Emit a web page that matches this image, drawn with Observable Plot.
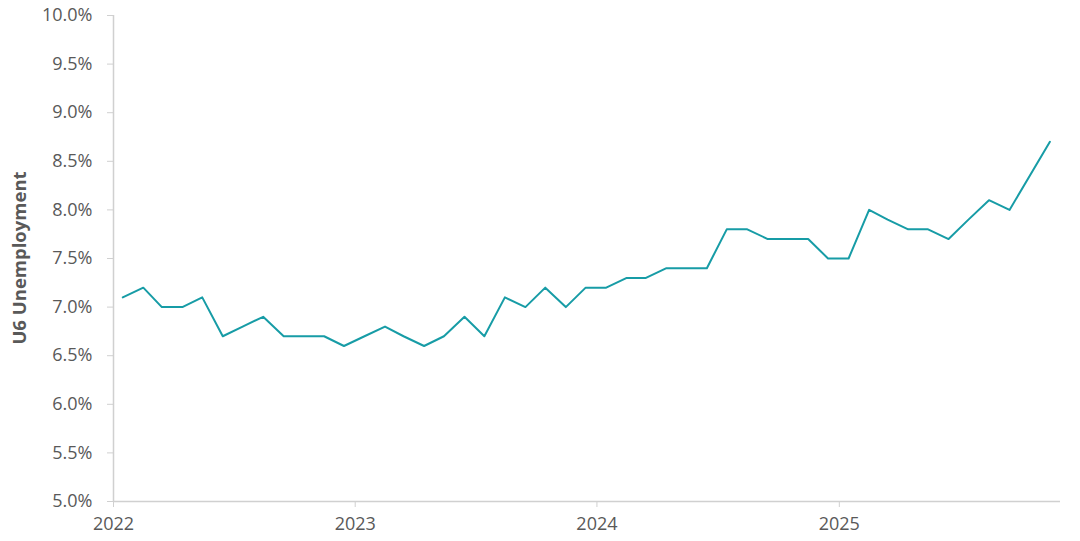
<!DOCTYPE html>
<html>
<head>
<meta charset="utf-8">
<script src="https://cdn.jsdelivr.net/npm/d3@7"></script>
<script src="https://cdn.jsdelivr.net/npm/@observablehq/plot@0.6"></script>
<style>
  html, body { margin: 0; padding: 0; background: #fff; }
  #chart svg { display: block; }
</style>
</head>
<body>
<div id="chart"></div>
<script>
// Monthly U6 unemployment rate (%), Jan 2022 – Nov 2025 (October 2025 not published)
const months = [
  "2022-01","2022-02","2022-03","2022-04","2022-05","2022-06","2022-07","2022-08","2022-09","2022-10","2022-11","2022-12",
  "2023-01","2023-02","2023-03","2023-04","2023-05","2023-06","2023-07","2023-08","2023-09","2023-10","2023-11","2023-12",
  "2024-01","2024-02","2024-03","2024-04","2024-05","2024-06","2024-07","2024-08","2024-09","2024-10","2024-11","2024-12",
  "2025-01","2025-02","2025-03","2025-04","2025-05","2025-06","2025-07","2025-08","2025-09","2025-11"
];
const u6 = [
  7.1, 7.2, 7.0, 7.0, 7.1, 6.7, 6.8, 6.9, 6.7, 6.7, 6.7, 6.6,
  6.7, 6.8, 6.7, 6.6, 6.7, 6.9, 6.7, 7.1, 7.0, 7.2, 7.0, 7.2,
  7.2, 7.3, 7.3, 7.4, 7.4, 7.4, 7.8, 7.8, 7.7, 7.7, 7.7, 7.5,
  7.5, 8.0, 7.9, 7.8, 7.8, 7.7, 7.9, 8.1, 8.0, 8.7
];
const yTicks = [5.0, 5.5, 6.0, 6.5, 7.0, 7.5, 8.0, 8.5, 9.0, 9.5, 10.0];
const xTickYears = ["2022", "2023", "2024", "2025"];
const xDomain = ["2022-01-01", "2025-12-01"];
const yDomain = [5, 10];
const yLabel = "U6 Unemployment";

const data = months.map((m, i) => ({date: new Date(m + "-15T00:00:00"), value: u6[i]}));
const xTicks = xTickYears.map(y => new Date(y + "-01-01T00:00:00"));

const axisColor = "#d0d0d0";
const textColor = "#595959";

const chart = Plot.plot({
  width: 1080,
  height: 541,
  marginLeft: 113,
  marginRight: 20,
  marginTop: 15,
  marginBottom: 40,
  style: {fontFamily: "'Open Sans', sans-serif", fontSize: "18px", color: textColor, background: "#fff"},
  x: {type: "time", domain: xDomain.map(d => new Date(d + "T00:00:00"))},
  y: {domain: yDomain},
  marks: [
    Plot.axisY({
      ticks: yTicks, tickSize: 6, tickPadding: 15, stroke: axisColor,
      tickFormat: d => d.toFixed(1) + "%", fill: textColor, fontSize: 18,
      label: null
    }),
    Plot.axisX({
      ticks: xTicks, tickSize: 6, tickPadding: 10, stroke: axisColor,
      tickFormat: d => d3.timeFormat("%Y")(d), fill: textColor, fontSize: 18,
      label: null
    }),
    Plot.ruleX([new Date(xDomain[0] + "T00:00:00")], {stroke: axisColor, strokeWidth: 1.5}),
    Plot.ruleY([yDomain[0]], {stroke: axisColor, strokeWidth: 1.5}),
    Plot.lineY(data, {x: "date", y: "value", stroke: "#179ca6", strokeWidth: 2})
  ]
});

// y-axis title
const svg = d3.select(chart);
svg.append("text")
  .attr("transform", `translate(18, ${(15 + 501) / 2}) rotate(-90)`)
  .attr("text-anchor", "middle")
  .attr("dominant-baseline", "central")
  .attr("font-family", "'Open Sans', sans-serif")
  .attr("font-weight", "bold")
  .attr("font-size", 18.5)
  .attr("fill", textColor)
  .text(yLabel);

document.getElementById("chart").appendChild(chart);
</script>
</body>
</html>
